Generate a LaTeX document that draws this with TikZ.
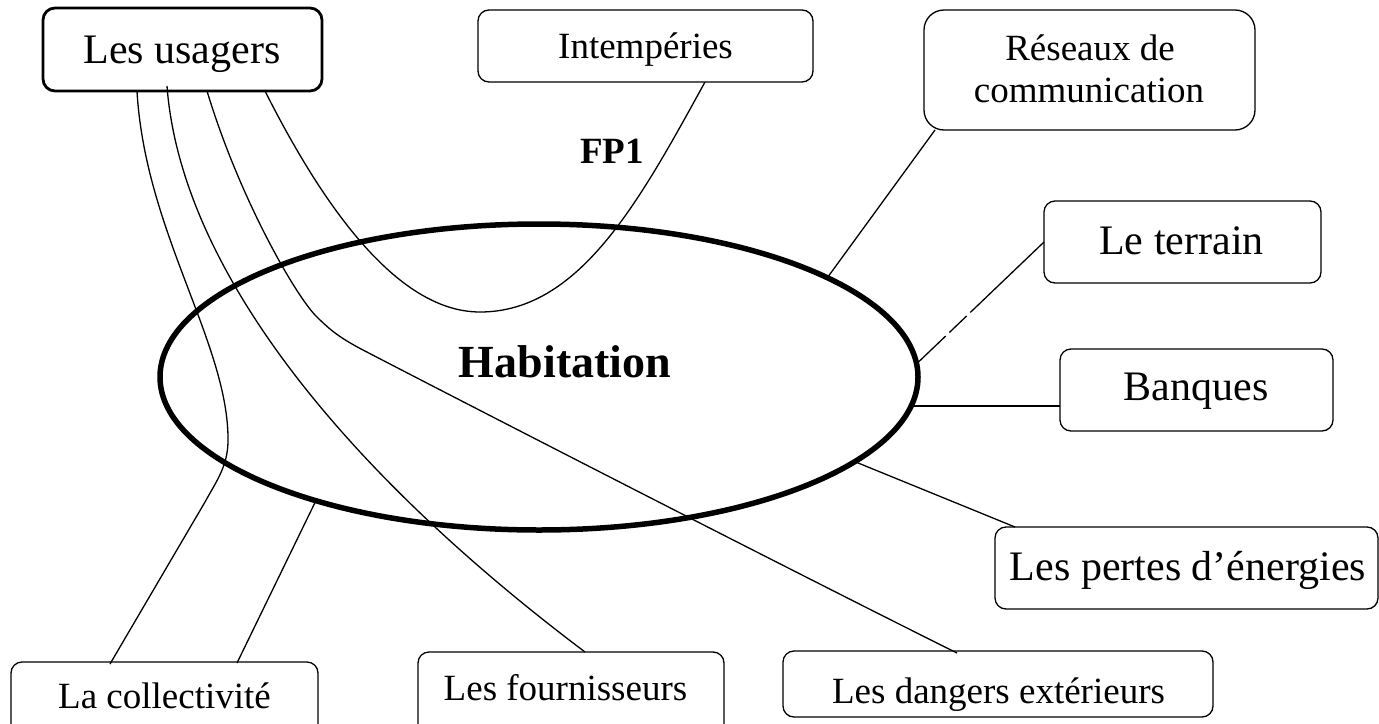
\documentclass[tikz,border=0pt]{standalone}
\usepackage{fontspec}
\setmainfont{Liberation Serif}
\usetikzlibrary{shapes.geometric,calc}
\begin{document}
\begin{tikzpicture}[x=1pt,y=-1pt,
  box/.style={draw, rounded corners=11pt, line width=1.3pt, inner sep=0pt, outer sep=0pt},
  conn/.style={line width=1.3pt},
  lbl/.style={inner sep=0pt, anchor=base, font=\fontsize{37}{44}\selectfont},
  lblbig/.style={lbl, font=\fontsize{42}{50}\selectfont},
  lblbold/.style={lbl, font=\fontsize{37}{44}\selectfont\bfseries},
]
\useasboundingbox (0,0) rectangle (1379,723);
\clip (0,0) rectangle (1379,723);

% central ellipse
\node[draw, ellipse, line width=5.5pt, minimum width=758pt, minimum height=306pt,
      inner sep=0pt, outer sep=0pt] (hab) at (539,377) {};

% boxes
\node[box, line width=2.8pt, rounded corners=12pt, minimum width=279pt, minimum height=83pt] (usagers) at (182.5,49.5) {};
\node[box, minimum width=335pt, minimum height=72pt] (intemp) at (645.5,46) {};
\node[box, rounded corners=20pt, minimum width=331pt, minimum height=120pt] (reseaux) at (1089.5,70) {};
\node[box, minimum width=277pt, minimum height=82pt] (terrain) at (1182.5,242) {};
\node[box, minimum width=273pt, minimum height=82pt] (banques) at (1196.5,390) {};
\node[box, minimum width=383pt, minimum height=82pt] (pertes) at (1186.5,568) {};
\node[box, minimum width=430pt, minimum height=66pt] (dangers) at (998,684) {};
\node[box, minimum width=306pt, minimum height=88pt] (fourn) at (571,696) {};
\node[box, minimum width=307pt, minimum height=80pt] (coll) at (164.5,702) {};

% texts
\node[lblbig] (tusagers) at (182,63) {Les usagers};
\node[lbl] (tintemp) at (645.5,58) {Intempéries};
\node[lbl] (treseaux1) at (1090,60) {Réseaux de};
\node[lbl] (treseaux2) at (1089,102) {communication};
\node[lblbig] (tterrain) at (1181.5,254) {Le terrain};
\node[lblbig] (tbanques) at (1196,400) {Banques};
\node[lblbig] (tpertes) at (1188,580) {Les pertes d’énergies};
\node[lbl] (tdangers) at (998.5,703) {Les dangers extérieurs};
\node[lbl] (tfourn) at (565.5,700) {Les fournisseurs};
\node[lbl] (tcoll) at (164.5,708) {La collectivité};
\node[lbl, font=\fontsize{46}{55}\selectfont\bfseries] (thab) at (565,377) {Habitation};
\node[lblbold, anchor=base west] (fp1) at (580,163) {FP1};

% connector end points on the boxes
\coordinate (u1) at ($(usagers.south west)+(94,0)$);
\coordinate (u2) at ($(usagers.south west)+(124,-5)$);
\coordinate (u3) at ($(usagers.south west)+(164,0)$);
\coordinate (u4) at ($(usagers.south west)+(222,0)$);
\coordinate (i1) at ($(intemp.south west)+(227,0)$);
\coordinate (c1) at ($(coll.north west)+(99,2)$);
\coordinate (c2) at ($(coll.north west)+(226,1)$);
\coordinate (f1) at ($(fourn.north west)+(167,0)$);
\coordinate (d1) at ($(dangers.north west)+(174,2)$);
\coordinate (b1) at ($(banques.west)+(0,16)$);

% curves from the users
\draw[conn] (u1) .. controls (145,230) and (226,340) .. (228,436)
                 .. controls (229,465) and (217,480) .. (205,502) -- (c1);
\draw[conn] (u2) .. controls (180,260) and (330,460) .. (f1);
\draw[conn] (u3) .. controls (240,200) and (296,296) .. (316,316)
                 .. controls (330,330) and (340,338) .. (363,350)
                 .. controls (463,402) and (800,575) .. (d1);
\draw[conn] (u4) .. controls (320,200) and (395,312) .. (480,312)
                 .. controls (580,312) and (640,200) .. (i1);

% straight connectors
\draw[conn] ($(reseaux.south west)+(11,0)$) -- (hab.19);
\draw[conn, dash pattern=on 102pt off 5pt on 24pt off 5pt on 300pt] (terrain.west) -- (hab.2);
\draw[conn] (b1) -- (hab.-4.4 |- b1);
\draw[conn] ($(pertes.north west)+(20,0)$) -- (hab.-15.3);
\draw[conn] (c2) -- (hab.209);
\end{tikzpicture}
\end{document}
